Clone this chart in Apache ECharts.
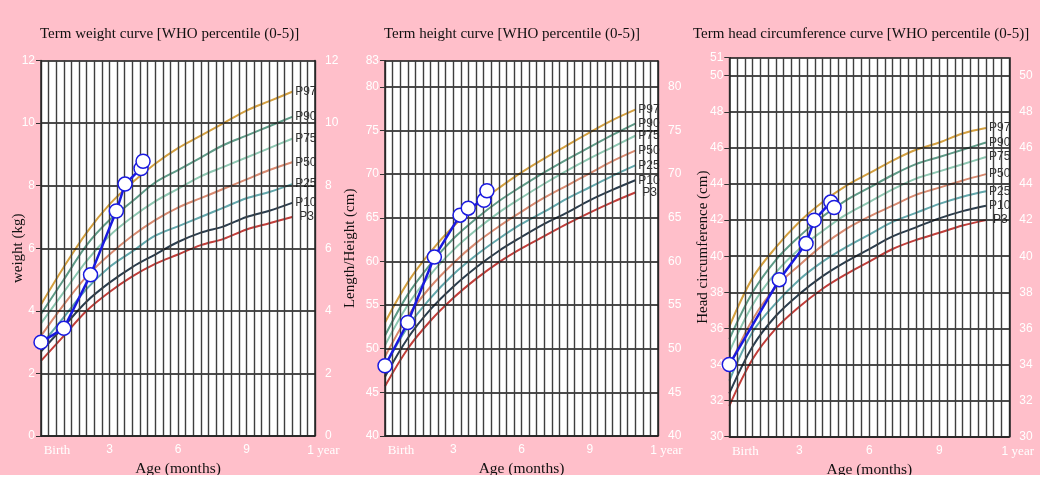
<!DOCTYPE html>
<html>
<head>
<meta charset="utf-8">
<script src="https://cdn.jsdelivr.net/npm/echarts@6/dist/echarts.min.js"></script>
<style>
  html, body { margin: 0; padding: 0; background: #fff; }
  #chart { width: 1040px; height: 475px; }
</style>
</head>
<body>
<div id="chart"></div>
<script>
// --- Ages (months) at which the WHO percentiles are drawn ---
var months = [0, 1, 2, 3, 4, 5, 6, 7, 8, 9, 10, 11];
var pctNames = ['P97', 'P90', 'P75', 'P50', 'P25', 'P10', 'P3'];
var pctColors = ['#d4a040', '#5f9c88', '#8ec8b2', '#d98a70', '#62a8ac', '#2c3e4e', '#c23e3a'];

// --- Tick values of the y axes ---
var weightTicks = [0, 2, 4, 6, 8, 10, 12];
var heightTicks = [40, 45, 50, 55, 60, 65, 70, 75, 80, 83];
var headTicks = [30, 32, 34, 36, 38, 40, 42, 44, 46, 48, 50, 51];

// --- Weight (kg) ---
var weightP97 = [4.2, 5.4, 6.5, 7.4, 8.1, 8.7, 9.2, 9.6, 10.0, 10.4, 10.7, 11.0];
var weightP90 = [3.9, 5.0, 6.1, 6.9, 7.5, 8.1, 8.5, 8.9, 9.3, 9.6, 9.9, 10.2];
var weightP75 = [3.6, 4.6, 5.6, 6.4, 7.0, 7.5, 7.9, 8.3, 8.6, 8.9, 9.2, 9.5];
var weightP50 = [3.2, 4.2, 5.1, 5.8, 6.4, 6.9, 7.3, 7.6, 7.9, 8.2, 8.5, 8.75];
var weightP25 = [2.9, 3.8, 4.7, 5.4, 5.9, 6.4, 6.7, 7.0, 7.3, 7.6, 7.8, 8.05];
var weightP10 = [2.7, 3.5, 4.3, 4.9, 5.4, 5.8, 6.2, 6.5, 6.7, 7.0, 7.2, 7.45];
var weightP3  = [2.4, 3.2, 4.0, 4.6, 5.1, 5.5, 5.8, 6.1, 6.3, 6.6, 6.8, 7.0];

// --- Length/Height (cm) ---
var heightP97 = [53.0, 57.6, 61.1, 64.0, 66.4, 68.4, 70.2, 71.8, 73.3, 74.8, 76.2, 77.4];
var heightP90 = [51.5, 56.2, 59.7, 62.6, 64.9, 66.9, 68.6, 70.2, 71.7, 73.1, 74.5, 75.8];
var heightP75 = [50.4, 55.0, 58.5, 61.3, 63.6, 65.6, 67.3, 68.9, 70.4, 71.8, 73.1, 74.4];
var heightP50 = [49.1, 53.7, 57.1, 59.8, 62.1, 64.0, 65.7, 67.3, 68.7, 70.1, 71.5, 72.7];
var heightP25 = [48.0, 52.5, 55.8, 58.5, 60.7, 62.6, 64.3, 65.7, 67.2, 68.5, 69.8, 71.0];
var heightP10 = [46.8, 51.2, 54.5, 57.1, 59.3, 61.2, 62.8, 64.3, 65.6, 67.0, 68.2, 69.3];
var heightP3  = [45.7, 50.0, 53.2, 55.8, 58.0, 59.9, 61.5, 62.9, 64.3, 65.6, 66.8, 67.9];

// --- Head circumference (cm) ---
var headP97 = [36.1, 38.8, 40.5, 41.9, 43.0, 43.9, 44.6, 45.3, 45.9, 46.3, 46.8, 47.1];
var headP90 = [35.4, 38.0, 39.8, 41.1, 42.2, 43.1, 43.8, 44.5, 45.1, 45.5, 45.9, 46.3];
var headP75 = [34.7, 37.3, 39.1, 40.4, 41.4, 42.3, 43.0, 43.7, 44.3, 44.7, 45.1, 45.5];
var headP50 = [33.9, 36.5, 38.3, 39.5, 40.6, 41.5, 42.2, 42.8, 43.4, 43.8, 44.2, 44.55];
var headP25 = [33.1, 35.8, 37.4, 38.7, 39.7, 40.5, 41.2, 41.9, 42.4, 42.9, 43.3, 43.6];
var headP10 = [32.4, 35.0, 36.7, 37.9, 38.9, 39.7, 40.4, 41.1, 41.6, 42.1, 42.5, 42.8];
var headP3  = [31.7, 34.3, 36.0, 37.2, 38.2, 39.0, 39.7, 40.4, 40.9, 41.3, 41.7, 42.0];

// --- Measured values of the child ---
var weightAges = [0, 1.0, 2.17, 3.3, 3.68, 4.38, 4.47];
var weightVals = [3.0, 3.44, 5.15, 7.19, 8.05, 8.55, 8.78];
var heightAges = [0, 1.0, 2.17, 3.3, 3.66, 4.35, 4.48];
var heightVals = [48.05, 53.0, 60.5, 65.3, 66.1, 67.0, 68.1];
var headAges = [0, 2.14, 3.29, 3.64, 4.35, 4.49];
var headVals = [34.0, 38.7, 40.7, 42.0, 43.0, 42.7];

var SERIF = 'Liberation Serif';
var SANS = 'Liberation Sans';

var panels = [
  { title: 'Term weight curve [WHO percentile (0-5)]', titleLeft: 35,
    grid: { left: 41, top: 60.5, width: 274, height: 375.5 },
    yName: 'weight (kg)', yGap: 15, ticks: weightTicks, rightMax: true,
    curves: [weightP97, weightP90, weightP75, weightP50, weightP25, weightP10, weightP3],
    ages: weightAges, vals: weightVals },
  { title: 'Term height curve [WHO percentile (0-5)]', titleLeft: 379,
    grid: { left: 385, top: 60.7, width: 273, height: 375.3 },
    yName: 'Length/Height (cm)', yGap: 27, ticks: heightTicks, rightMax: false,
    curves: [heightP97, heightP90, heightP75, heightP50, heightP25, heightP10, heightP3],
    ages: heightAges, vals: heightVals },
  { title: 'Term head circumference curve [WHO percentile (0-5)]', titleLeft: 688,
    grid: { left: 729.3, top: 57.7, width: 280, height: 379 },
    yName: 'Head circumference (cm)', yGap: 19, ticks: headTicks, rightMax: false,
    curves: [headP97, headP90, headP75, headP50, headP25, headP10, headP3],
    ages: headAges, vals: headVals }
];

var titles = [], grids = [], xAxes = [], yAxes = [], series = [];

panels.forEach(function(p, gi) {
  var tMin = p.ticks[0], tMax = p.ticks[p.ticks.length - 1];
  var rightTicks = p.rightMax ? p.ticks : p.ticks.slice(0, -1);

  titles.push({
    text: p.title, left: p.titleLeft, top: 22,
    textStyle: { fontFamily: SERIF, fontSize: 15, fontWeight: 'normal', color: '#111' }
  });
  grids.push({
    left: p.grid.left, top: p.grid.top, width: p.grid.width, height: p.grid.height,
    backgroundColor: '#fff', show: true, borderWidth: 0, outerBoundsMode: 'none'
  });
  xAxes.push({
    gridIndex: gi, type: 'value', min: 0, max: 12, interval: 1, z: 3,
    name: 'Age (months)', nameLocation: 'middle', nameGap: 25, nameMoveOverlap: false,
    nameTextStyle: { fontFamily: SERIF, fontSize: 15.5, color: '#111' },
    axisLine: { show: true, onZero: false, lineStyle: { color: '#222', width: 1.5 } },
    axisTick: { show: false },
    splitLine: { show: true, lineStyle: { color: '#3e3e3e', width: 1.4 } },
    minorTick: { show: false, splitNumber: 3 },
    minorSplitLine: { show: true, lineStyle: { color: '#3e3e3e', width: 1.4 } },
    axisLabel: {
      interval: 0, margin: 8, color: '#fff', fontSize: 12, fontFamily: SANS,
      formatter: function(v) {
        if (v === 0) return '{b|Birth}';
        if (v === 12) return '{n|1} {s|year}';
        return v % 3 === 0 ? String(v) : '';
      },
      rich: {
        b: { fontFamily: SERIF, fontSize: 13, color: '#fff', padding: [0, 0, 0, 32] },
        n: { fontFamily: SANS, fontSize: 12, color: '#fff', padding: [0, 0, 0, 17] },
        s: { fontFamily: SERIF, fontSize: 13, color: '#fff' }
      }
    }
  });
  yAxes.push({
    gridIndex: gi, type: 'value', position: 'left', min: tMin, max: tMax, z: 3,
    name: p.yName, nameLocation: 'middle', nameGap: p.yGap, nameMoveOverlap: false,
    nameTextStyle: { fontFamily: SERIF, fontSize: 15, color: '#111' },
    axisLine: { show: true, onZero: false, lineStyle: { color: '#222', width: 1.5 } },
    axisTick: { show: true, length: 5, customValues: p.ticks, lineStyle: { color: '#333' } },
    splitLine: { show: true, lineStyle: { color: '#111', width: 1.6 } },
    minorSplitLine: { show: false },
    axisLabel: { margin: 6, customValues: p.ticks, color: '#fff', fontSize: 12, fontFamily: SANS }
  });
  yAxes.push({
    gridIndex: gi, type: 'value', position: 'right', min: tMin, max: tMax, z: 3,
    axisLine: { show: true, onZero: false, lineStyle: { color: '#222', width: 1.5 } },
    axisTick: { show: false, customValues: rightTicks },
    splitLine: { show: false },
    minorSplitLine: { show: false },
    axisLabel: { margin: 10, customValues: rightTicks, color: '#fff', fontSize: 12, fontFamily: SANS }
  });

  p.curves.forEach(function(arr, ci) {
    series.push({
      name: pctNames[ci], type: 'line', xAxisIndex: gi, yAxisIndex: gi * 2, z: 2,
      smooth: 0.35, showSymbol: false, silent: true,
      data: months.map(function(m, i) { return [m, arr[i]]; }),
      lineStyle: { color: pctColors[ci], width: 2 },
      endLabel: {
        show: true, formatter: pctNames[ci], distance: 3,
        offset: pctNames[ci] === 'P3' ? [4, 0] : [0, 0],
        color: '#333', fontSize: 12, fontFamily: SANS
      }
    });
  });

  series.push({
    name: 'child', type: 'line', xAxisIndex: gi, yAxisIndex: gi * 2, z: 5,
    data: p.ages.map(function(a, i) { return [a, p.vals[i]]; }),
    symbol: 'circle', symbolSize: 14, showSymbol: true,
    lineStyle: { color: '#1a1ae0', width: 2.5 },
    itemStyle: { color: '#fff', borderColor: '#1a1ae0', borderWidth: 1.5 }
  });
});

var chart = echarts.init(document.getElementById('chart'));
chart.setOption({
  backgroundColor: '#ffbfca',
  animation: false,
  title: titles,
  grid: grids,
  xAxis: xAxes,
  yAxis: yAxes,
  series: series
});
</script>
</body>
</html>
